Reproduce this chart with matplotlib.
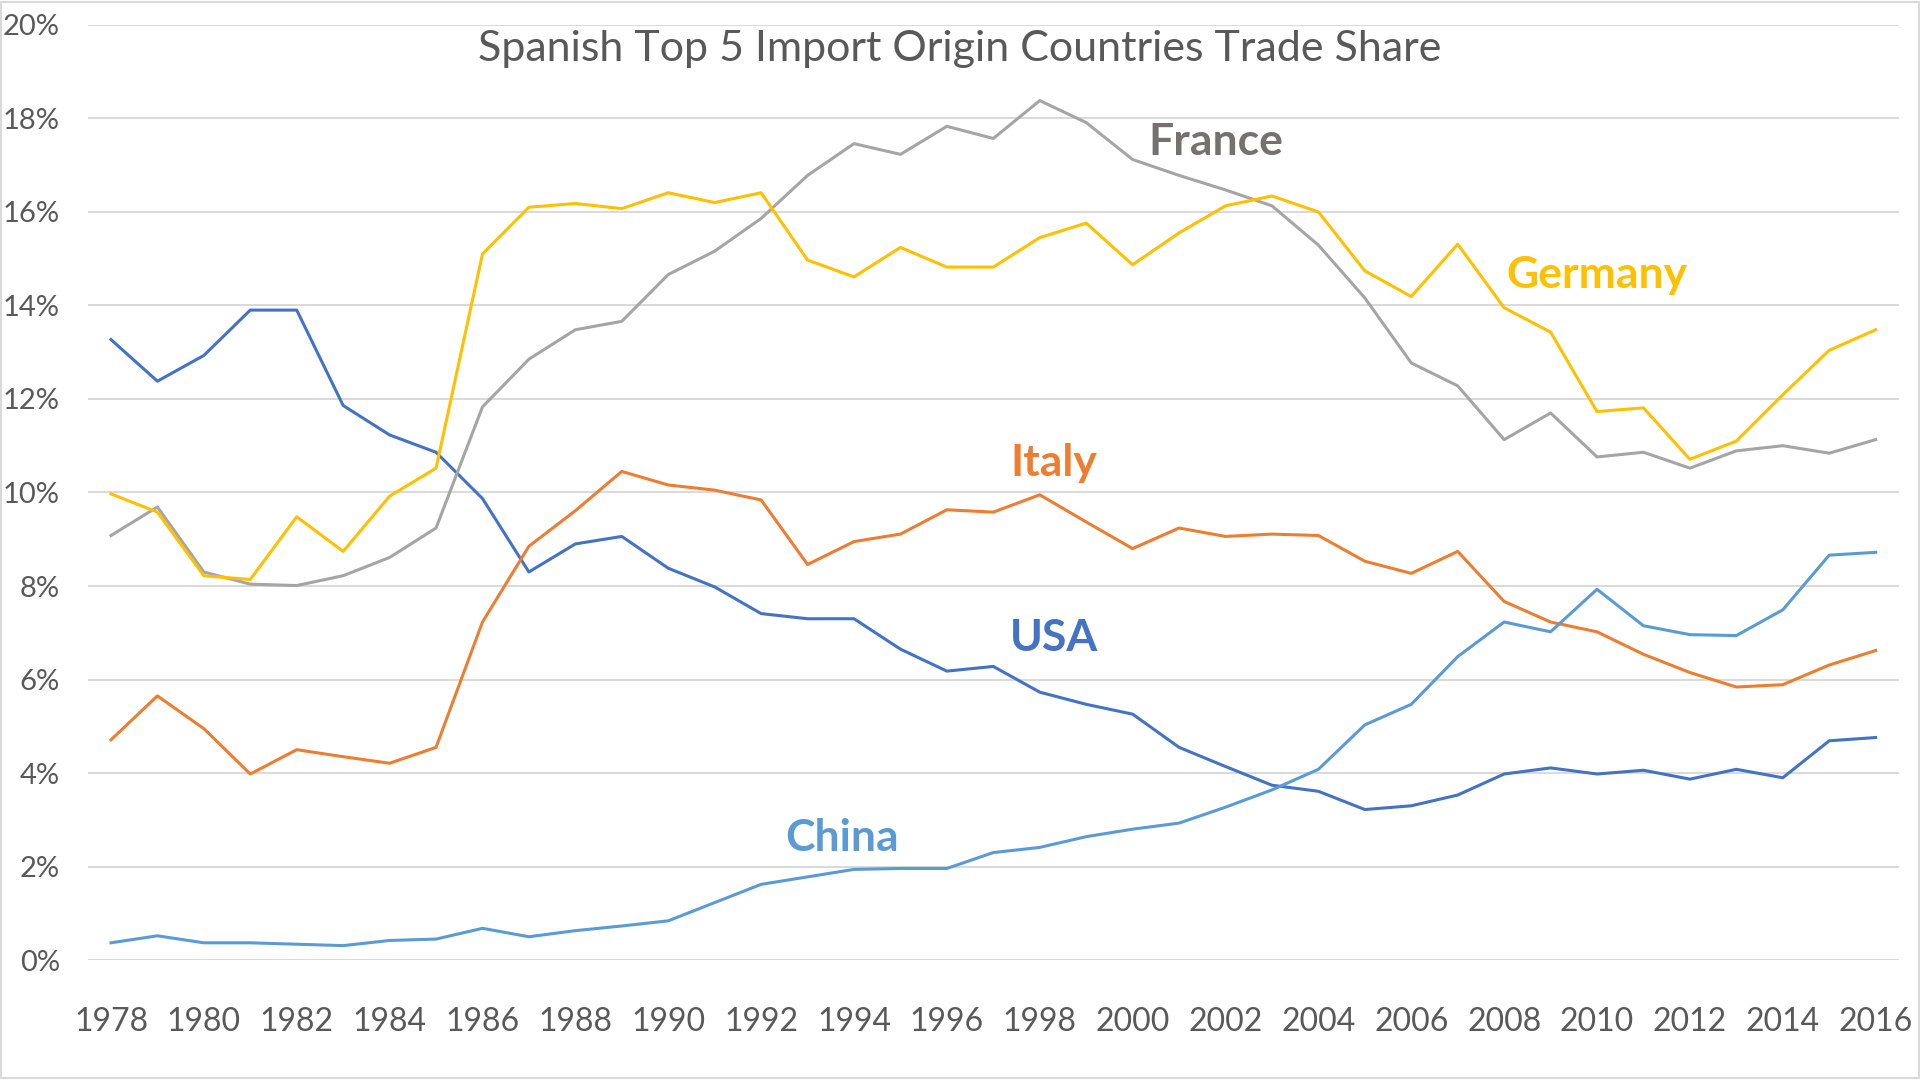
import matplotlib
matplotlib.use("Agg")
import matplotlib.pyplot as plt
from matplotlib.patches import Rectangle
from matplotlib.ticker import FuncFormatter, MultipleLocator

years = list(range(1978, 2017))

usa = [13.27, 12.38, 12.93, 13.90, 13.90, 11.86, 11.23, 10.86, 9.87, 8.30,
       8.90, 9.06, 8.38, 7.98, 7.41, 7.30, 7.30, 6.65, 6.18, 6.28,
       5.73, 5.47, 5.26, 4.55, 4.14, 3.74, 3.61, 3.22, 3.30, 3.53,
       3.98, 4.11, 3.98, 4.06, 3.87, 4.08, 3.90, 4.69, 4.76]

france = [9.08, 9.69, 8.30, 8.04, 8.01, 8.22, 8.61, 9.24, 11.83, 12.85,
          13.48, 13.66, 14.66, 15.16, 15.86, 16.78, 17.46, 17.23, 17.83, 17.57,
          18.38, 17.91, 17.12, 16.78, 16.47, 16.13, 15.29, 14.16, 12.77, 12.28,
          11.13, 11.70, 10.76, 10.86, 10.52, 10.89, 11.00, 10.84, 11.13]

germany = [9.97, 9.58, 8.22, 8.14, 9.48, 8.74, 9.92, 10.52, 15.10, 16.10,
           16.18, 16.07, 16.41, 16.20, 16.41, 14.97, 14.61, 15.24, 14.82, 14.82,
           15.45, 15.76, 14.87, 15.55, 16.13, 16.34, 16.00, 14.74, 14.19, 15.31,
           13.95, 13.43, 11.73, 11.81, 10.71, 11.10, 12.09, 13.04, 13.48]

italy = [4.71, 5.65, 4.95, 3.98, 4.50, 4.35, 4.21, 4.55, 7.23, 8.85,
         9.61, 10.45, 10.16, 10.05, 9.84, 8.46, 8.95, 9.11, 9.63, 9.58,
         9.95, 9.37, 8.80, 9.24, 9.06, 9.11, 9.08, 8.53, 8.27, 8.74,
         7.67, 7.23, 7.02, 6.54, 6.15, 5.84, 5.89, 6.31, 6.62]

china = [0.37, 0.52, 0.37, 0.37, 0.34, 0.31, 0.42, 0.45, 0.68, 0.50,
         0.63, 0.73, 0.84, 1.23, 1.62, 1.78, 1.94, 1.96, 1.96, 2.30,
         2.41, 2.64, 2.80, 2.93, 3.27, 3.64, 4.08, 5.03, 5.47, 6.49,
         7.23, 7.02, 7.93, 7.15, 6.96, 6.94, 7.49, 8.66, 8.72]

series_names = ["USA", "France", "Germany", "Italy", "China"]
series_values = [usa, france, germany, italy, china]
series_colors = ["#4472C4", "#A5A5A5", "#FFC000", "#ED7D31", "#5B9BD5"]
label_colors = ["#4472C4", "#767171", "#FFC000", "#ED7D31", "#5B9BD5"]
label_pos = [(1998.3, 6.88), (2001.8, 17.5), (2010.0, 14.66), (1998.3, 10.63), (1993.75, 2.62)]

title = "Spanish Top 5 Import Origin Countries Trade Share"
xtick_labels = [str(y) for y in range(1978, 2017, 2)]

plt.rcParams['font.family'] = ['Lato', 'DejaVu Sans']

fig = plt.figure(figsize=(19.2, 10.8), dpi=100)
fig.patch.set_facecolor("white")
ax = fig.add_axes([0.0457, 0.111, 0.9433, 0.866])

for name, vals, col in zip(series_names, series_values, series_colors):
    ax.plot(years, vals, color=col, linewidth=2.2, solid_joinstyle="round", zorder=3)

for name, col, (lx, ly) in zip(series_names, label_colors, label_pos):
    ax.text(lx, ly, name, color=col, fontsize=32, fontweight="bold",
            ha="center", va="center", zorder=4)

ax.set_xlim(1977.5, 2016.5)
ax.set_ylim(0, 20)
ax.yaxis.set_major_locator(MultipleLocator(2))
ax.yaxis.set_major_formatter(FuncFormatter(lambda v, p: f"{v:.0f}%"))
ax.set_xticks(list(range(1978, 2017, 2)))
ax.set_xticklabels(xtick_labels)
ax.grid(axis="y", color="#D9D9D9", linewidth=1.4, zorder=0)
ax.grid(axis="x", visible=False)
for s in ax.spines.values():
    s.set_visible(False)
ax.tick_params(axis="both", length=0, colors="#595959")
ax.tick_params(axis="x", labelsize=23, pad=34)
ax.tick_params(axis="y", labelsize=21, pad=20)

fig.text(0.5, 0.955, title, ha="center", va="center", fontsize=31,
         color="#595959", fontweight="normal")

fig.patches.append(Rectangle((0.0005, 0.0015), 0.999, 0.997, transform=fig.transFigure,
                             fill=False, edgecolor="#D9D9D9", linewidth=1.5))

fig.savefig("out.png", dpi=100, facecolor="white")
